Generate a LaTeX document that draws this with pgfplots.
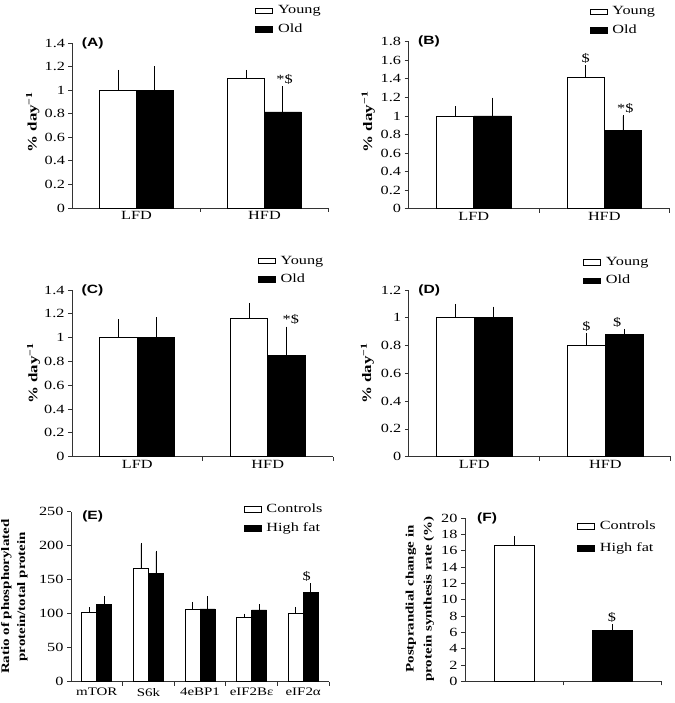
\documentclass[border=0pt]{standalone}
\usepackage{fontspec}
\setmainfont{Liberation Serif}[FakeStretch=1.3]
\newfontfamily\panelfont{Liberation Sans}[FakeStretch=1.3]
\usepackage{pgfplots}
\pgfplotsset{compat=1.18}

\pgfplotsset{
  panel/.style={
    scale only axis, anchor=south west,
    axis lines*=left,
    axis line style={line width=0.8pt, black!80},
    every tick/.style={line width=0.8pt, black!80},
    tick align=outside, major tick length=4pt,
    enlargelimits=false, clip=false,
    ybar=0pt,
    /pgf/number format/assume math mode=true,
    yticklabel style={font=\fontsize{12.5}{14}\selectfont},
    xticklabels={},
    extra x tick style={major tick length=0pt,
      xticklabel style={font=\fontsize{12.5}{14}\selectfont}},
    ylabel style={anchor=center, font=\bfseries\fontsize{13}{15}\selectfont},
    legend style={draw=none, fill=none, anchor=west, inner sep=0pt,
      column sep=5pt, row sep=6.6pt, font=\fontsize{12.5}{14}\selectfont,
      nodes={inner sep=0pt, text height=9pt, text depth=3pt}},
    legend cell align=left,
    error bars/y dir=plus, error bars/y explicit,
    error bars/error bar style={line width=0.8pt, black},
    error bars/error mark options={line width=0.8pt, black, mark size=1.5pt},
  },
  young/.style={fill=white, draw=black, line width=0.8pt, area legend},
  old/.style={fill=black, draw=black, line width=0.8pt, area legend},
}
\tikzset{
  anno/.style={anchor=south, inner sep=0pt, yshift=3pt, font=\fontsize{12.5}{14}\selectfont},
  plab/.style={anchor=west, inner sep=0pt, font=\panelfont\bfseries\fontsize{12}{14}\selectfont},
}

\begin{document}
\begin{tikzpicture}
\useasboundingbox (0pt,0pt) rectangle (674pt,703pt);

% (A)
\begin{axis}[panel, at={(72.5pt,495pt)}, width=256pt, height=165pt,
  xmin=-0.5, xmax=1.5, ymin=0, ymax=1.4,
  ytick={0,0.2,0.4,0.6,0.8,1,1.2,1.4},
  xtick={0.5,1.5}, extra x ticks={0,1}, extra x tick labels={LFD,HFD},
  bar width=36.7pt,
  ylabel={\% day\textsuperscript{−1}},
  ylabel style={at={(axis description cs:-0.155,0.52)}},
  legend style={at={(axis description cs:0.713,1.139)}}]
\addplot[young] coordinates {(0,1.00) +- (0,0.16) (1,1.10) +- (0,0.06)};
\addplot[old] coordinates {(0,1.00) +- (0,0.19) (1,0.815) +- (0,0.205)};
\legend{Young,Old}
\node[anno] at ([xshift=20pt]axis cs:1,1.02) {*\$};
\node[plab] at (axis description cs:0.036,1) {(A)};
\end{axis}

% (B)
\begin{axis}[panel, at={(408.5pt,494.3pt)}, width=261pt, height=167pt,
  xmin=-0.5, xmax=1.5, ymin=0, ymax=1.8,
  ytick={0,0.2,0.4,0.6,0.8,1,1.2,1.4,1.6,1.8},
  xtick={0.5,1.5}, extra x ticks={0,1}, extra x tick labels={LFD,HFD},
  bar width=37.3pt,
  ylabel={\% day\textsuperscript{−1}},
  ylabel style={at={(axis description cs:-0.154,0.52)}},
  legend style={at={(axis description cs:0.693,1.123)}}]
\addplot[young] coordinates {(0,1.00) +- (0,0.09) (1,1.42) +- (0,0.11)};
\addplot[old] coordinates {(0,1.00) +- (0,0.18) (1,0.84) +- (0,0.155)};
\legend{Young,Old}
\node[anno] at ([xshift=-18.6pt]axis cs:1,1.53) {\$};
\node[anno] at ([xshift=21pt]axis cs:1,0.995) {*\$};
\node[plab] at (axis description cs:0.036,1) {(B)};
\end{axis}

% (C)
\begin{axis}[panel, at={(72pt,246.3pt)}, width=261pt, height=166.7pt,
  xmin=-0.5, xmax=1.5, ymin=0, ymax=1.4,
  ytick={0,0.2,0.4,0.6,0.8,1,1.2,1.4},
  xtick={0.5,1.5}, extra x ticks={0,1}, extra x tick labels={LFD,HFD},
  bar width=37.5pt,
  ylabel={\% day\textsuperscript{−1}},
  ylabel style={at={(axis description cs:-0.147,0.5)}},
  legend style={at={(axis description cs:0.711,1.118)}}]
\addplot[young] coordinates {(0,1.00) +- (0,0.14) (1,1.16) +- (0,0.12)};
\addplot[old] coordinates {(0,1.00) +- (0,0.16) (1,0.85) +- (0,0.23)};
\legend{Young,Old}
\node[anno] at ([xshift=23pt]axis cs:1,1.08) {*\$};
\node[plab] at (axis description cs:0.036,1) {(C)};
\end{axis}

% (D)
\begin{axis}[panel, at={(408.8pt,246.3pt)}, width=262pt, height=166.7pt,
  xmin=-0.5, xmax=1.5, ymin=0, ymax=1.2,
  ytick={0,0.2,0.4,0.6,0.8,1,1.2},
  xtick={0.5,1.5}, extra x ticks={0,1}, extra x tick labels={LFD,HFD},
  bar width=37.6pt,
  ylabel={\% day\textsuperscript{−1}},
  ylabel style={at={(axis description cs:-0.158,0.5)}},
  legend style={at={(axis description cs:0.664,1.110)}}]
\addplot[young] coordinates {(0,1.00) +- (0,0.09) (1,0.80) +- (0,0.08)};
\addplot[old] coordinates {(0,1.00) +- (0,0.07) (1,0.88) +- (0,0.03)};
\legend{Young,Old}
\node[anno] at ([xshift=-18.8pt]axis cs:1,0.88) {\$};
\node[anno] at ([xshift=12pt]axis cs:1,0.91) {\$};
\node[plab] at (axis description cs:0.036,1) {(D)};
\end{axis}

% (E)
\begin{axis}[panel, at={(71pt,21.3pt)}, width=258pt, height=170pt,
  xmin=-0.5, xmax=4.5, ymin=0, ymax=250,
  ytick={0,50,100,150,200,250},
  xtick={0.5,1.5,2.5,3.5,4.5}, extra x ticks={0,1,2,3,4},
  extra x tick labels={mTOR,S6k,4eBP1,eIF2Bε,eIF2α},
  extra x tick style={major tick length=0pt,
    xticklabel style={font=\fontsize{11.5}{13}\selectfont, yshift=-3pt}},
  bar width=15pt,
  ylabel={Ratio of phosphorylated\\protein/total protein},
  ylabel style={align=center, font=\bfseries\fontsize{11.5}{16}\selectfont,
    at={(axis description cs:-0.22,0.5)}},
  legend style={at={(axis description cs:0.668,0.958)}}]
\addplot[young] coordinates {(0,102) +- (0,5) (1,167) +- (0,35) (2,107) +- (0,8)
  (3,94.5) +- (0,3.5) (4,100.5) +- (0,7.5)};
\addplot[old] coordinates {(0,113) +- (0,10.5) (1,159.5) +- (0,31) (2,107) +- (0,16.5)
  (3,105.5) +- (0,6) (4,131.5) +- (0,11)};
\legend{Controls,High fat}
\node[anno] at ([xshift=3.5pt]axis cs:4,142.5) {\$};
\node[plab] at (axis description cs:0.043,0.97) {(E)};
\end{axis}

% (F)
\begin{axis}[panel, at={(465pt,21.7pt)}, width=196pt, height=163pt,
  xmin=-0.5, xmax=1.5, ymin=0, ymax=20,
  ytick={0,2,4,6,8,10,12,14,16,18,20},
  xtick={0.5,1.5},
  bar width=40pt, bar shift=0pt,
  ylabel={Postprandial change in\\protein synthesis rate (\%)},
  ylabel style={align=center, font=\bfseries\fontsize{11.5}{18}\selectfont,
    at={(axis description cs:-0.23,0.505)}},
  legend style={at={(axis description cs:0.570,0.882)}, row sep=9.6pt}]
\addplot[young] coordinates {(0,16.7) +- (0,0.95)};
\addplot[old] coordinates {(1,6.2) +- (0,0.62)};
\legend{Controls,High fat}
\node[anno] at (axis cs:1,6.82) {\$};
\node[plab] at (axis description cs:0.061,1) {(F)};
\end{axis}
\end{tikzpicture}
\end{document}
